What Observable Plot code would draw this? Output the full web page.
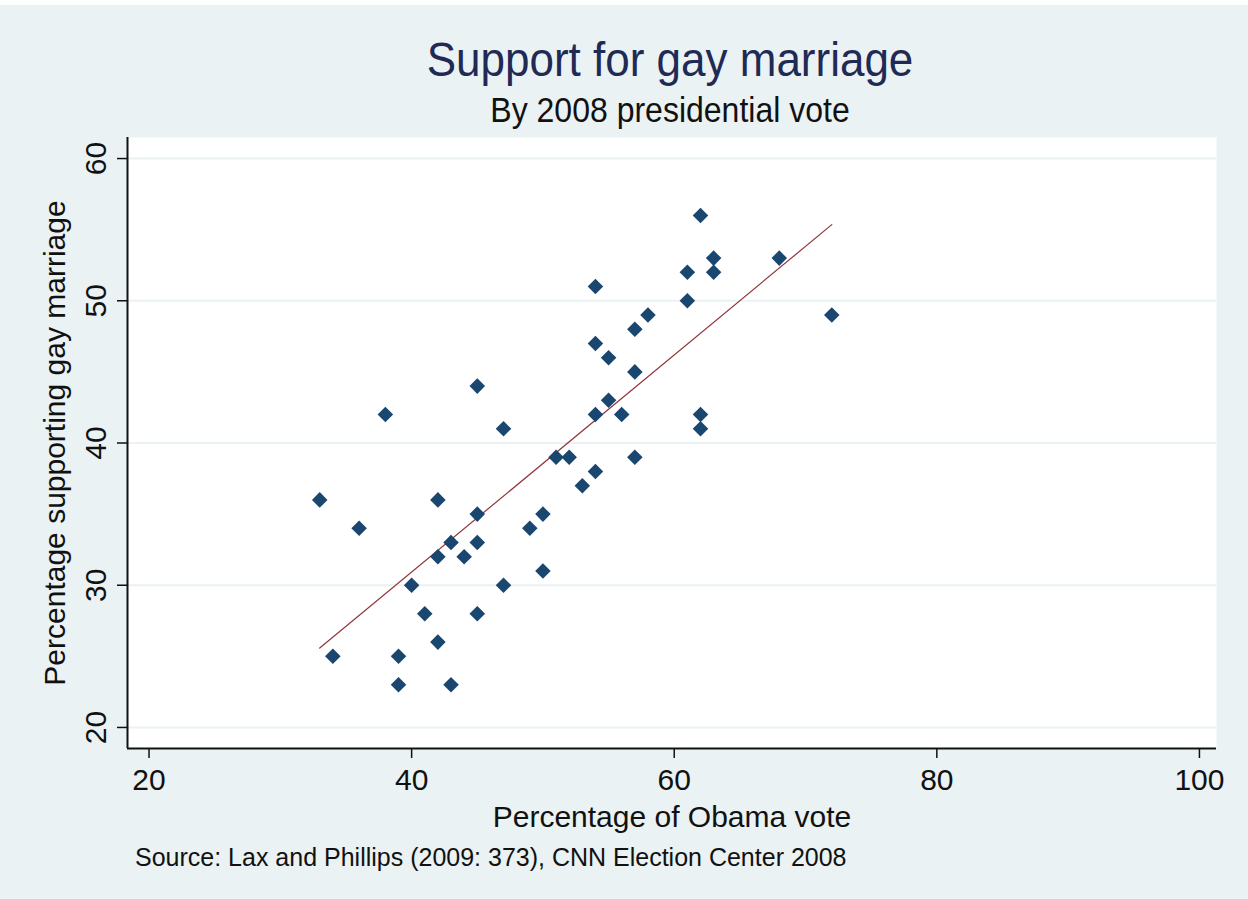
<!DOCTYPE html>
<html>
<head>
<meta charset="utf-8">
<script src="https://cdn.jsdelivr.net/npm/d3@7"></script>
<script src="https://cdn.jsdelivr.net/npm/@observablehq/plot@0.6"></script>
<style>
  html, body { margin: 0; padding: 0; background: #ffffff; }
  #wrap {
    position: relative; width: 1248px; height: 894px; margin-top: 5px;
    background: #EAF2F3; overflow: hidden;
    font-family: "Liberation Sans", Arial, sans-serif;
  }
  #title { position: absolute; left: 0; width: 1248px; top: 32px; text-align: center;
    font-size: 44px; color: #1f2a55; line-height: 1; transform: translateX(46px) scaleY(1.1); }
  #subtitle { position: absolute; left: 0; width: 1248px; top: 89px; text-align: center;
    font-size: 32px; color: #111; line-height: 1; transform: translateX(46px) scaleY(1.1); }
  #chart { position: absolute; left: 0; top: 115px; }
  #caption { position: absolute; left: 135px; top: 840px; font-size: 25px; color: #111; line-height: 1; }
</style>
</head>
<body>
<div id="wrap">
  <div id="title">Support for gay marriage</div>
  <div id="subtitle">By 2008 presidential vote</div>
  <div id="chart"></div>
  <div id="caption">Source: Lax and Phillips (2009: 373), CNN Election Center 2008</div>
</div>
<script>
// Percentage of Obama vote (x) and percentage supporting gay marriage (y), by state
const obamaVote = [33, 34, 36, 38, 39, 39, 40, 41, 42, 42, 42, 43, 43, 44, 45, 45, 45, 45, 47, 47, 49, 50, 50, 51, 52, 53, 54, 54, 54, 54, 55, 55, 56, 57, 57, 57, 58, 61, 61, 62, 62, 62, 63, 63, 68, 72];
const gaySupport = [36, 25, 34, 42, 25, 23, 30, 28, 36, 32, 26, 33, 23, 32, 44, 35, 33, 28, 41, 30, 34, 35, 31, 39, 39, 37, 51, 47, 42, 38, 46, 43, 42, 48, 45, 39, 49, 52, 50, 56, 42, 41, 53, 52, 53, 49];
const xTicks = [20, 40, 60, 80, 100];
const yTicks = [20, 30, 40, 50, 60];

const data = obamaVote.map((x, i) => ({x, y: gaySupport[i]}));
const xDomain = [18.36, 101.3];
const yDomain = [18.52, 61.48];

const font = '"Liberation Sans", Arial, sans-serif';

const chart = Plot.plot({
  width: 1248,
  height: 715,
  marginLeft: 127,
  marginRight: 32,
  marginTop: 17,
  marginBottom: 87,
  style: { background: "transparent", fontFamily: font, fontSize: "30px", color: "#111", overflow: "visible" },
  x: { domain: xDomain },
  y: { domain: yDomain },
  marks: [
    Plot.frame({ fill: "white", stroke: null }),
    Plot.gridY(yTicks, { stroke: "#EAF2F3", strokeOpacity: 1, strokeWidth: 2 }),
    Plot.ruleX([xDomain[0]], { stroke: "#111", strokeWidth: 2 }),
    Plot.ruleY([yDomain[0]], { stroke: "#111", strokeWidth: 2 }),
    Plot.axisX(xTicks, {
      tickSize: 10, tickPadding: 10, stroke: "#111", strokeWidth: 1.5,
      label: "Percentage of Obama vote", labelAnchor: "center", labelArrow: "none", labelOffset: 78,
      fontSize: 30
    }),
    Plot.axisY(yTicks, {
      tickSize: 10, tickPadding: 12, tickRotate: -90, stroke: "#111", strokeWidth: 1.5,
      label: "Percentage supporting gay marriage", labelAnchor: "center", labelArrow: "none", labelOffset: 84,
      fontSize: 30
    }),
    Plot.linearRegressionY(data, { x: "x", y: "y", ci: 0, stroke: "#90353B", strokeWidth: 1.2 }),
    Plot.dot(data, { x: "x", y: "y", symbol: "diamond2", r: 7, fill: "#1A476F", stroke: null })
  ]
});
document.getElementById("chart").appendChild(chart);
</script>
</body>
</html>
